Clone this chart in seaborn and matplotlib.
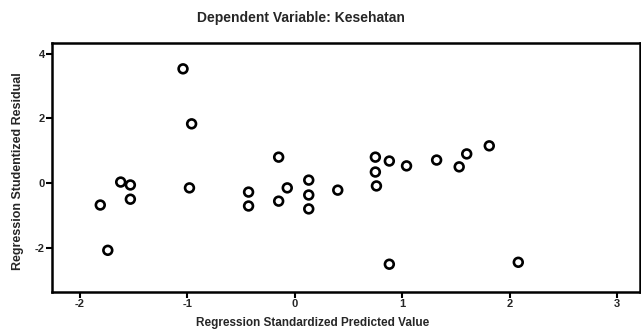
import matplotlib
matplotlib.use("Agg")
import matplotlib.pyplot as plt
import seaborn as sns
import pandas as pd

# standardized predicted value vs studentized residual
pred = [-1.81, -1.74, -1.62, -1.53, -1.53, -1.04, -0.96, -0.98, -0.43, -0.43,
        -0.15, -0.15, -0.07, 0.13, 0.13, 0.13, 0.40, 0.75, 0.88, 1.04,
        0.75, 0.76, 1.32, 1.53, 1.60, 1.81, 0.88, 2.08]
resid = [-0.68, -2.08, 0.03, -0.06, -0.50, 3.53, 1.83, -0.15, -0.28, -0.71,
         0.80, -0.56, -0.15, 0.09, -0.37, -0.80, -0.22, 0.80, 0.68, 0.53,
         0.34, -0.09, 0.71, 0.50, 0.90, 1.15, -2.51, -2.45]
xticks = [-2, -1, 0, 1, 2, 3]
yticks = [-2, 0, 2, 4]

data = pd.DataFrame({"pred": pred, "resid": resid})

sns.set_style("white")
plt.rcParams["font.family"] = ["Liberation Sans", "DejaVu Sans"]
plt.rcParams["axes.unicode_minus"] = False

fig = plt.figure(figsize=(6.41, 3.33), dpi=100)
ax = fig.add_axes([0.081, 0.123, 0.917, 0.748])

sns.scatterplot(data=data, x="pred", y="resid", ax=ax, marker="o",
                s=40, facecolor="none", edgecolor="black", linewidth=1.9)

ax.set_xlim(-2.26, 3.21)
ax.set_ylim(-3.37, 4.33)
ax.set_xticks(xticks)
ax.set_yticks(yticks)
ax.set_xticklabels([str(t) for t in xticks], fontweight="bold", fontsize=8)
ax.set_yticklabels([str(t) for t in yticks], fontweight="bold", fontsize=8)
ax.tick_params(direction="out", length=4, width=1.5, color="black", pad=1,
               bottom=True, left=True)
for sp in ax.spines.values():
    sp.set_linewidth(1.8)
    sp.set_color("black")

ax.set_xlabel("")
ax.set_ylabel("")
fig.text(0.487, 0.03, "Regression Standardized Predicted Value",
         ha="center", va="center", fontsize=8.5, fontweight="bold")
fig.text(0.028, 0.485, "Regression Studentized Residual", rotation=90,
         ha="center", va="center", fontsize=9, fontweight="bold")
fig.text(0.47, 0.945, "Dependent Variable: Kesehatan",
         ha="center", va="center", fontsize=10, fontweight="bold")

fig.savefig("out.png", dpi=100)
